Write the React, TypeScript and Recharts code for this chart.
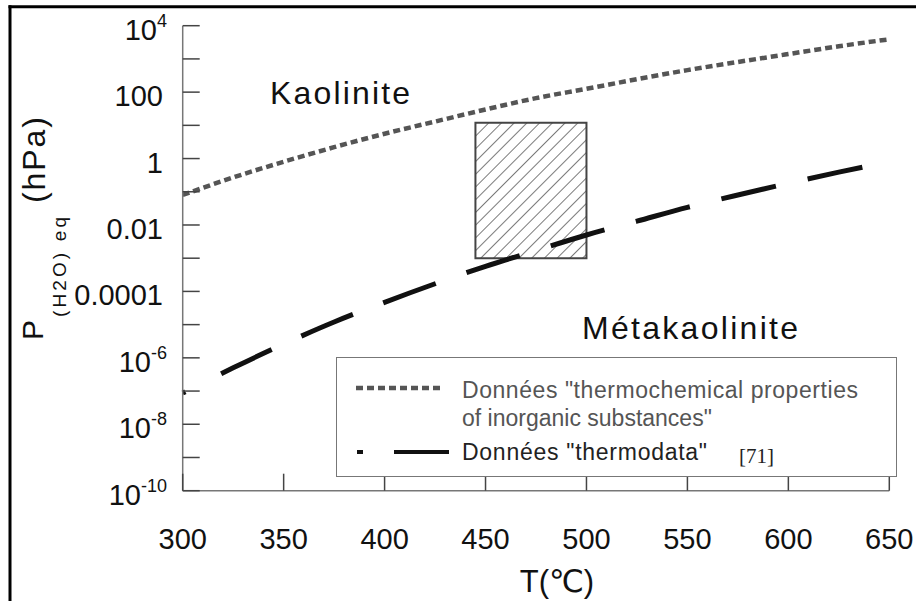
import React from "react";
import { LineChart, Line, XAxis, YAxis, ReferenceArea, Legend } from "recharts";

// T in °C, pressures in hPa
const TEMPS = [300, 325, 350, 375, 400, 425, 450, 475, 500, 525, 550, 575, 600, 625, 650];
const INORGANIC = [0.08, 0.27, 0.8, 2.2, 5.6, 13, 30, 66, 126, 245, 460, 810, 1400, 2400, 3900];
const THERMODATA = [8.7e-8, 5e-7, 2.6e-6, 1.2e-5, 4.7e-5, 1.7e-4, 5.7e-4, 1.7e-3, 5e-3, 1.3e-2, 3.4e-2, 8e-2, 0.18, 0.39, 0.8];

const X_TICKS = [300, 350, 400, 450, 500, 550, 600, 650];
const Y_TICKS = [1e-10, 1e-9, 1e-8, 1e-7, 1e-6, 1e-5, 1e-4, 1e-3, 1e-2, 1e-1, 1, 10, 100, 1e3, 1e4];
const Y_TICK_LABELS = ["10^-10", "", "10^-8", "", "10^-6", "", "0.0001", "", "0.01", "", "1", "", "100", "", "10^4"];

// hatched zone (T range, P range)
const ZONE_T = [445, 500];
const ZONE_P = [0.001, 12];

const LEGEND_LINES = ['Données "thermochemical properties', 'of inorganic substances"', 'Données "thermodata"'];
const LEGEND_REF = "[71]";

const data = TEMPS.map((t, i) => ({ t, inorganic: INORGANIC[i], thermodata: THERMODATA[i] }));

const FONT = "'Liberation Sans', Arial, Helvetica, sans-serif";
const AXIS_X = 182.7;
const AXIS_Y = 490.7;
const TICK_LEN = 17;
// dot, then long dashes
const LONG_DASH = "3 40 " + Array(10).fill("56 32.5").join(" ");

function YTick(props: any) {
  const { y, payload } = props;
  const idx = Y_TICKS.findIndex((v) => Math.abs(Math.log10(v) - Math.log10(payload.value)) < 0.01);
  const label = idx >= 0 ? Y_TICK_LABELS[idx] : "";
  let text: React.ReactNode = null;
  if (label.includes("^")) {
    const [base, exp] = label.split("^");
    text = (
      <text x={167} y={y + 14} textAnchor="end" fontSize={29} fontFamily={FONT} fill="#111">
        {base}
        <tspan fontSize={18} dy={-13}>{exp}</tspan>
      </text>
    );
  } else if (label) {
    text = (
      <text x={163} y={y + 14} textAnchor="end" fontSize={29} fontFamily={FONT} fill="#111">
        {label}
      </text>
    );
  }
  return (
    <g>
      <line x1={AXIS_X} x2={AXIS_X + TICK_LEN} y1={y} y2={y} stroke="#444" strokeWidth={1.5} />
      {text}
    </g>
  );
}

function XTick(props: any) {
  const { x, payload } = props;
  return (
    <g>
      <line x1={x} x2={x} y1={AXIS_Y} y2={AXIS_Y - TICK_LEN} stroke="#444" strokeWidth={1.5} />
      <text x={x} y={549} textAnchor="middle" fontSize={29} fontFamily={FONT} fill="#111">
        {payload.value}
      </text>
    </g>
  );
}

function LegendBox() {
  return (
    <div
      style={{
        width: 561,
        height: 120,
        boxSizing: "border-box",
        border: "1.5px solid #777",
        background: "#fff",
      }}
    >
      <svg width={558} height={117} style={{ display: "block" }}>
        <line x1={19} x2={106} y1={30} y2={30} stroke="#555" strokeWidth={4.5} strokeDasharray="7 4" />
        <text x={125} y={40} fontSize={23} fontFamily={FONT} fill="#555" textLength={396} lengthAdjust="spacing">
          {LEGEND_LINES[0]}
        </text>
        <text x={125} y={68} fontSize={23} fontFamily={FONT} fill="#555">
          {LEGEND_LINES[1]}
        </text>
        <line x1={20} x2={26} y1={94} y2={94} stroke="#111" strokeWidth={4} />
        <line x1={57} x2={112} y1={94} y2={94} stroke="#111" strokeWidth={4} />
        <text x={125} y={102} fontSize={23} fontFamily={FONT} fill="#222" textLength={245} lengthAdjust="spacing">
          {LEGEND_LINES[2]}
        </text>
        <text x={402} y={105} fontSize={21} fontFamily="'Liberation Serif', 'Times New Roman', serif" fill="#222">
          {LEGEND_REF}
        </text>
      </svg>
    </div>
  );
}

export default function App() {
  return (
    <div style={{ position: "absolute", left: 0, top: 0, width: 916, height: 601, background: "#fff" }}>
      <LineChart width={916} height={601} data={data} margin={{ top: 25.7, right: 26.7, bottom: 0, left: 0 }}>
        <defs>
          <pattern id="hatch" patternUnits="userSpaceOnUse" width={9} height={9} patternTransform="rotate(45)">
            <rect width={9} height={9} fill="#fff" />
            <line x1={0} y1={0} x2={0} y2={9} stroke="#222" strokeWidth={1.2} />
          </pattern>
        </defs>
        <XAxis
          dataKey="t"
          type="number"
          domain={[300, 650]}
          ticks={X_TICKS}
          interval={0}
          height={110.3}
          axisLine={{ stroke: "#777", strokeWidth: 1.5 }}
          tickLine={false}
          tick={<XTick />}
        />
        <YAxis
          type="number"
          scale="log"
          domain={[1e-10, 1e4]}
          ticks={Y_TICKS}
          interval={0}
          allowDataOverflow
          width={AXIS_X}
          axisLine={{ stroke: "#777", strokeWidth: 1.5 }}
          tickLine={false}
          tick={<YTick />}
        />
        <Line
          dataKey="inorganic"
          type="monotone"
          stroke="#555"
          strokeWidth={4.5}
          strokeDasharray="7 4"
          dot={false}
          isAnimationActive={false}
        />
        <Line
          dataKey="thermodata"
          type="monotone"
          stroke="#111"
          strokeWidth={5}
          strokeDasharray={LONG_DASH}
          dot={false}
          isAnimationActive={false}
        />
        <ReferenceArea
          x1={ZONE_T[0]}
          x2={ZONE_T[1]}
          y1={ZONE_P[0]}
          y2={ZONE_P[1]}
          fill="url(#hatch)"
          fillOpacity={1}
          stroke="#444"
          strokeWidth={2}
          ifOverflow="visible"
        />
        <Legend
          layout="vertical"
          verticalAlign="middle"
          align="center"
          wrapperStyle={{ left: 336, top: 357, width: 561, height: 120 }}
          content={() => <LegendBox />}
        />
        <line x1={8.5} x2={916} y1={6.7} y2={6.7} stroke="#000" strokeWidth={3} />
        <line x1={10} x2={10} y1={5.2} y2={601} stroke="#000" strokeWidth={3} />
        <text x={270} y={104} fontSize={32} fontFamily={FONT} fill="#111" textLength={140} lengthAdjust="spacing">
          Kaolinite
        </text>
        <text x={582} y={339} fontSize={32} fontFamily={FONT} fill="#111" textLength={216} lengthAdjust="spacing">
          Métakaolinite
        </text>
        <text transform="translate(43,340) rotate(-90)" fontSize={30} fontFamily={FONT} fill="#111">
          P
        </text>
        <text transform="translate(66,317) rotate(-90)" fontSize={19} fontFamily={FONT} fill="#111" textLength={100} lengthAdjust="spacing">
          (H2O) eq
        </text>
        <text transform="translate(45,203) rotate(-90)" fontSize={32} fontFamily={FONT} fill="#111" textLength={86} lengthAdjust="spacing">
          (hPa)
        </text>
        <text x={557} y={592} textAnchor="middle" fontSize={31} fontFamily={`${FONT}, 'DejaVu Sans', 'Noto Sans CJK SC'`} fill="#111">
          T(℃)
        </text>
      </LineChart>
    </div>
  );
}
